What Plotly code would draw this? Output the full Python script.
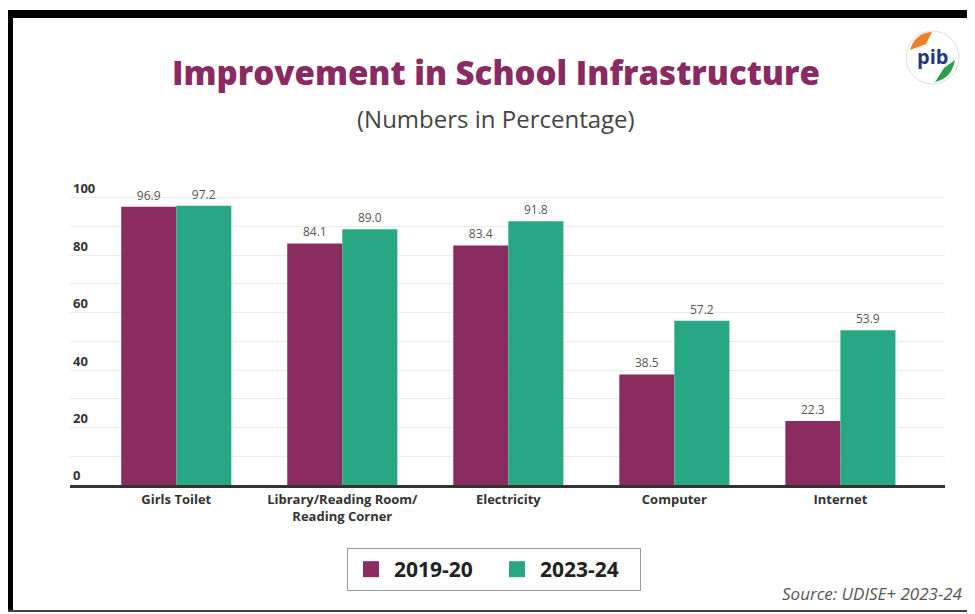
import plotly.graph_objects as go

categories = ["Girls Toilet", "Library/Reading Room/<br>Reading Corner", "Electricity", "Computer", "Internet"]
series_names = ["2019-20", "2023-24"]
values_2019 = [96.9, 84.1, 83.4, 38.5, 22.3]
values_2023 = [97.2, 89.0, 91.8, 57.2, 53.9]
y_ticks = [0, 20, 40, 60, 80, 100]

PURPLE = "#8A2C60"
GREEN = "#27A883"
FONT = "Open Sans"

OFF = 8  # page body margin offset
W, H = 975 - OFF, 614 - OFF
# plot area in reference (page) pixels
PL, PR, PT, PB = 70, 945, 169, 485
PW = PR - PL
PH = PB - PT


def px(p):
    return (p - PL) / PW


def py(q):
    return (PB - q) / PH


fig = go.Figure()
for name, vals, col in [(series_names[0], values_2019, PURPLE), (series_names[1], values_2023, GREEN)]:
    fig.add_trace(go.Bar(
        x=categories, y=vals, name=name, marker=dict(color=col, line=dict(width=0)),
        text=[f"{v:.1f}" for v in vals], textposition="outside",
        textfont=dict(family=FONT, size=12, color="#555555"),
        cliponaxis=False, showlegend=False,
    ))
    fig.add_trace(go.Scatter(
        x=[None], y=[None], mode="markers", name=name,
        marker=dict(symbol="square", size=16, color=col),
    ))

fig.update_layout(
    width=W, height=H,
    margin=dict(l=PL - OFF, r=W - (PR - OFF), t=PT - OFF, b=H - (PB - OFF)),
    paper_bgcolor="white", plot_bgcolor="white",
    barmode="group", bargap=0.337, bargroupgap=0,
    font=dict(family=FONT, color="#333333"),
    title=dict(
        text="Improvement in School Infrastructure",
        font=dict(family=FONT, size=33, color="#8A2A62", weight=800),
        x=(496 - OFF) / W, xanchor="center", xref="container",
        y=1 - (73 - OFF) / H, yanchor="middle", yref="container",
    ),
    legend=dict(
        orientation="h", x=px(494), xanchor="center", y=py(548), yanchor="top",
        bordercolor="#9a9a9a", borderwidth=1,
        font=dict(family=FONT, size=21, color="#222222", weight=700),
        itemwidth=36, entrywidth=95, entrywidthmode="pixels", traceorder="normal",
    ),
    xaxis=dict(
        range=[-0.64, 4.63], showline=True, linewidth=3, linecolor="#333333",
        showgrid=False, ticks="",
        tickfont=dict(family=FONT, size=13, color="#333333", weight=700),
    ),
    yaxis=dict(
        range=[0, 110], tickvals=y_ticks, ticklabelposition="inside top",
        showgrid=True, gridcolor="#ececec", gridwidth=1, zeroline=False,
        tickfont=dict(family=FONT, size=13, color="#333333", weight=700),
        minor=dict(dtick=10, showgrid=True, gridcolor="#ececec", gridwidth=1),
    ),
    annotations=[
        dict(text="(Numbers in Percentage)", xref="paper", yref="paper",
             x=px(496), y=py(118), xanchor="center", yanchor="middle", showarrow=False,
             font=dict(family=FONT, size=24, color="#444444")),
        dict(text="<i>Source: UDISE+ 2023-24</i>", xref="paper", yref="paper",
             x=px(965), y=py(593), xanchor="right", yanchor="middle", showarrow=False,
             font=dict(family=FONT, size=17, color="#555555")),
        dict(text="<b>pib</b>", xref="paper", yref="paper",
             x=px(932), y=py(56), xanchor="center", yanchor="middle", showarrow=False,
             font=dict(family=FONT, size=20, color="#1F3A78")),
    ],
    shapes=[
        dict(type="rect", xref="paper", yref="paper", x0=px(0), x1=px(980), y0=py(10), y1=py(18),
             fillcolor="black", line=dict(width=0), layer="above"),
        dict(type="rect", xref="paper", yref="paper", x0=px(6), x1=px(13), y0=py(10), y1=py(612),
             fillcolor="black", line=dict(width=0), layer="above"),
        dict(type="line", xref="paper", yref="paper", x0=px(6), x1=px(980), y0=py(611), y1=py(611),
             line=dict(color="#444444", width=2), layer="above"),
        dict(type="circle", xref="paper", yref="paper", x0=px(906), x1=px(959), y0=py(31), y1=py(84),
             fillcolor="white", line=dict(color="#dddddd", width=1), layer="below"),
        dict(type="path", xref="paper", yref="paper",
             path=f"M {px(910)},{py(50)} Q {px(915)},{py(33)} {px(932)},{py(32)} L {px(926)},{py(44)} Z",
             fillcolor="#F07F2A", line=dict(width=0)),
        dict(type="path", xref="paper", yref="paper",
             path=f"M {px(955)},{py(60)} Q {px(952)},{py(78)} {px(935)},{py(82)} L {px(944)},{py(68)} Z",
             fillcolor="#2E9E48", line=dict(width=0)),
    ],
)

fig.write_html("out.html")
